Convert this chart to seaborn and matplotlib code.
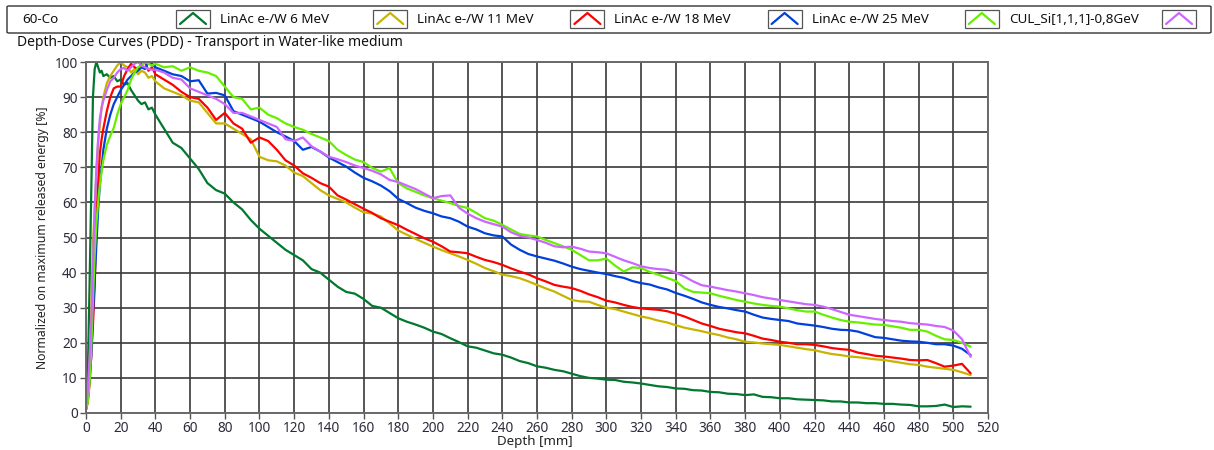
import numpy as np
import pandas as pd
import seaborn as sns
import matplotlib
matplotlib.use("Agg")
import matplotlib.pyplot as plt
from matplotlib.patches import Rectangle, FancyBboxPatch
from matplotlib.lines import Line2D

# ---------------- data ----------------
depth_mm = [0, 1, 2, 3, 4, 5, 6, 7, 8, 9, 10, 12, 14, 16, 18, 20, 22, 24, 26, 28,
            30, 32, 34, 36, 38, 40] + list(range(45, 515, 5))

linac_6 = [1, 10, 35, 62, 90, 98, 100, 98.5, 97, 97.5, 96,
           96.5, 95.5, 96, 94.5, 95, 93.5, 94, 92, 90.5, 89, 88, 88.5, 86.5, 87, 85,
           81, 77, 75.5, 72.5, 69.5, 65.5, 63.5, 62.5, 60, 58, 55,
           52.5, 50.5, 48.5, 46.5, 45, 43.5, 41, 40, 38, 36,
           34.5, 34, 32.5, 30.5, 30, 28.5, 27, 26, 25.2, 24.3,
           23.2, 22.5, 21.3, 20.2, 19, 18.6, 17.8, 17, 16.6, 15.8,
           14.8, 14.2, 13.3, 12.9, 12.3, 11.9, 11.2, 10.5, 10, 9.8,
           9.5, 9.4, 8.9, 8.7, 8.4, 8.0, 7.6, 7.4, 7.0, 6.9,
           6.5, 6.4, 6.0, 5.9, 5.5, 5.4, 5.1, 5.3, 4.6, 4.5,
           4.2, 4.2, 3.9, 3.8, 3.7, 3.6, 3.3, 3.3, 3.0, 3.0,
           2.8, 2.8, 2.6, 2.6, 2.4, 2.3, 1.9, 1.9, 2.0, 2.4,
           1.7, 1.9, 1.8]

linac_11 = [2, 5, 12, 28, 48, 58, 68, 77, 82, 87, 90,
            94, 96, 97.5, 99, 100, 99, 98.5, 97, 98, 96.5, 97.5, 97, 95.5, 96, 94.5,
            92.5, 91.5, 90.5, 89, 88.5, 85.5, 82.5, 82.5, 81, 79.5, 78,
            73, 72, 71.7, 70.5, 68.5, 67.5, 65.5, 63.5, 62, 61,
            60, 58.5, 57.2, 56.8, 56, 54, 52, 50.8, 49.6, 48.5,
            47.4, 46.4, 45.5, 44.6, 43.6, 42.5, 41.3, 40.4, 39.4, 39,
            38.4, 37.5, 36.5, 35.5, 34.6, 33.4, 32.2, 31.8, 31.7, 30.8,
            30, 29.6, 28.9, 28.2, 27.5, 27, 26.3, 25.8, 25, 24.3,
            23.8, 23.3, 22.7, 22.2, 21.5, 21, 20.3, 20.1, 19.8, 19.6,
            19.4, 19, 18.6, 18.2, 17.9, 17.3, 16.8, 16.5, 16.1, 15.9,
            15.6, 15.3, 15.1, 14.7, 14.3, 13.9, 13.7, 13.2, 12.9, 12.6,
            12.3, 11.6, 10.8]

linac_18 = [1, 3, 8, 16, 25, 36, 55, 65, 74, 78, 81,
            86, 90, 92.5, 93, 93, 96, 98, 99.5, 98.5, 98, 99.5, 100, 97.5, 98.5, 96.5,
            95, 93.5, 91.5, 90, 89.5, 87, 83.5, 85.5, 82.5, 81, 77,
            78.5, 77.5, 75, 72, 70.5, 68.3, 67, 65.5, 64.5, 62,
            60.8, 59.5, 58.2, 57, 55.5, 54.5, 53.5, 52.2, 51, 49.8,
            48.8, 47.5, 46, 45.8, 45.5, 44.5, 43.6, 43, 42.2, 41.2,
            40.3, 39.5, 38.4, 37.5, 36.5, 36, 35.6, 34.8, 33.8, 33,
            32, 31.5, 30.8, 30.2, 29.8, 29.6, 29.4, 29, 28.3, 27.5,
            26.5, 25.5, 24.8, 24, 23.5, 23, 22.7, 22, 21.2, 20.8,
            20.3, 20, 19.6, 19.6, 19.4, 19, 18.5, 18.2, 18, 17.2,
            16.8, 16.3, 16.1, 15.8, 15.5, 15.1, 15.0, 15.1, 14.2, 13.2,
            13.5, 14.0, 11.3]

linac_25 = [1, 4, 9, 16, 28, 38, 48, 58, 65, 70, 75,
            81, 85, 88, 90, 92, 93.5, 95, 96, 97, 97.5, 98.5, 98, 100, 99.5, 98.5,
            97.5, 96.5, 96, 94.5, 94.8, 91, 91.2, 90.5, 86, 85, 84,
            83, 81.5, 80, 78.8, 77.5, 75, 75.8, 74.5, 72.8, 71.5,
            70.2, 68.5, 67, 66, 64.8, 63.2, 61, 59.8, 58.5, 57.6,
            56.9, 56, 55.5, 54.5, 53.1, 52.3, 51.2, 50.6, 50.3, 48,
            46.5, 45.3, 44.6, 44, 43.4, 42.6, 41.7, 41, 40.5, 40,
            39.6, 39, 38.5, 37.6, 37, 36.6, 35.8, 35.2, 34.2, 33.4,
            32.5, 31.5, 30.8, 30.2, 29.8, 29.3, 28.9, 28, 27.2, 26.8,
            26.5, 26.2, 25.5, 25.2, 24.9, 24.5, 24, 23.7, 23.6, 23.2,
            22.4, 21.6, 21.4, 21, 20.6, 20.4, 20.3, 20, 19.6, 19.6,
            19.2, 18.3, 16.5]

cul_si = [1, 3, 8, 18, 32, 45, 54, 60, 65, 68.8, 72,
          76.4, 79, 81.2, 85, 88, 90, 92, 95, 97, 98.5, 99, 100, 99.5, 99, 99.5,
          98.5, 98.8, 97.5, 98.5, 97.5, 97, 96, 93, 90, 89.5, 86.5,
          87, 85, 84, 82.5, 81.5, 80.7, 79.5, 78.5, 77.5, 75,
          73.5, 72.2, 71.5, 69.8, 68.8, 69.8, 65.5, 64, 63, 62,
          61.2, 60.5, 59.8, 59, 58.4, 57, 55.5, 54.8, 53.6, 52.3,
          51, 50.6, 50.3, 49.3, 48.4, 47.5, 46.5, 45, 43.5, 43.5,
          44, 42, 40.3, 41.5, 41.3, 40.2, 39.4, 38.5, 37.6, 35.5,
          34.5, 34.3, 34.1, 33.4, 32.8, 32.2, 31.7, 31.2, 30.8, 30.5,
          30.3, 29.8, 29.3, 28.9, 28.9, 28, 27.2, 26.5, 26, 25.8,
          25.5, 25.2, 25.1, 24.7, 24.3, 23.7, 23.7, 23.2, 22, 21,
          20.8, 20, 18.9]

violet = [2, 6, 15, 25, 42, 58, 70, 78, 84, 87, 89,
          92, 94.5, 95.5, 97, 98, 98.3, 97.5, 98.5, 99.5, 100, 99, 98.5, 98, 97.8, 97.8,
          97, 95.5, 95, 92.5, 91.5, 90.5, 89.5, 88, 85.5, 85.5, 84.5,
          83.5, 82.5, 81.5, 78, 77.5, 78.5, 76, 74.5, 73, 72.3,
          71.5, 70.5, 69.8, 69, 68, 66.4, 65.8, 64.8, 63.8, 62.5,
          61.2, 61.8, 62, 58.5, 56.8, 55.5, 54.5, 53.8, 53.1, 51.5,
          50.5, 50, 49.3, 48.5, 47.5, 47.2, 47.4, 46.8, 46, 45.8,
          45.5, 44.5, 43.5, 42.7, 41.8, 41.3, 41, 40.8, 40, 38.9,
          37.5, 36.4, 36, 35.5, 35, 34.6, 34.1, 33.6, 33, 32.6,
          32.2, 31.8, 31.4, 31, 30.8, 30.3, 29.6, 28.8, 28, 27.6,
          27.2, 26.8, 26.5, 26.2, 26, 25.6, 25.4, 25.2, 24.8, 24.5,
          23.5, 21, 16]

series_names = ["LinAc e-/W 6 MeV", "LinAc e-/W 11 MeV", "LinAc e-/W 18 MeV",
                "LinAc e-/W 25 MeV", "CUL_Si[1,1,1]-0,8GeV", ""]
series_values = [linac_6, linac_11, linac_18, linac_25, cul_si, violet]
series_colors = ["#00782D", "#C8B400", "#FF0000", "#0040DD", "#66F000", "#CC66FF"]

x_ticks = list(range(0, 540, 20))
y_ticks = list(range(0, 110, 10))

# ---------------- build long-form table ----------------
frames = []
for i, (name, vals) in enumerate(zip(series_names, series_values)):
    assert len(vals) == len(depth_mm), (name, len(vals))
    frames.append(pd.DataFrame({"Depth": depth_mm, "Value": vals, "key": f"s{i}"}))
df = pd.concat(frames, ignore_index=True)
palette = {f"s{i}": c for i, c in enumerate(series_colors)}

# ---------------- figure ----------------
sns.set_theme(style="white")
plt.rcParams["font.family"] = ["Noto Sans", "DejaVu Sans"]

W, H = 1214, 450
fig = plt.figure(figsize=(W / 100, H / 100), dpi=100)
ax = fig.add_axes([86 / W, 1 - 413 / H, (988 - 86) / W, (413 - 62) / H])

sns.lineplot(data=df, x="Depth", y="Value", hue="key", palette=palette,
             estimator=None, sort=False, legend=False, linewidth=1.6, ax=ax)

ax.set_xlim(0, 520)
ax.set_ylim(0, 100)
ax.set_xticks(x_ticks)
ax.set_yticks(y_ticks)
ax.grid(True, color="#3a3a3a", linewidth=1.2)
ax.set_axisbelow(True)
for s in ax.spines.values():
    s.set_color("#6a6a6a")
    s.set_linewidth(1.4)
ax.tick_params(axis="both", which="both", direction="out", length=4, width=1,
               color="#555555", labelsize=9.8, labelcolor="#2b2b3b", pad=2,
               bottom=True, left=True)
ax.set_xlabel("Depth [mm]", fontsize=9.6, color="#222222", labelpad=0, va="center")
ax.xaxis.set_label_coords((535 - 86) / (988 - 86), -28.5 / 351)
ax.set_ylabel("Normalized on maximum released energy [%]", fontsize=8.8,
              color="#222222", labelpad=4)


def px(x, y):
    return x / W, 1 - y / H

# legend frame
x0, y0 = px(7, 33)
fig.patches.append(FancyBboxPatch((x0, y0), (1211 - 7) / W, (33 - 6) / H,
                                  boxstyle="round,pad=0,rounding_size=0.002",
                                  transform=fig.transFigure, fill=False,
                                  edgecolor="#333333", linewidth=1.0))
fig.text(*px(22, 19.5), "60-Co", fontsize=9.7, va="center", ha="left", color="#111111")

for i, (name, col) in enumerate(zip(series_names, series_colors)):
    sx = 176 + i * 197.2
    rx, ry = px(sx, 28)
    fig.patches.append(Rectangle((rx, ry), 34 / W, 18 / H, transform=fig.transFigure,
                                 fill=False, edgecolor="#555555", linewidth=0.9))
    lx = [px(sx + 4, 24)[0], px(sx + 17, 13)[0], px(sx + 30, 24)[0]]
    ly = [px(sx + 4, 24)[1], px(sx + 17, 13)[1], px(sx + 30, 24)[1]]
    fig.lines.append(Line2D(lx, ly, transform=fig.transFigure, color=col, linewidth=1.6))
    if name:
        fig.text(*px(sx + 44, 19.5), name, fontsize=9.7, va="center", ha="left",
                 color="#111111")

fig.text(*px(17, 42), "Depth-Dose Curves (PDD) - Transport in Water-like medium",
         fontsize=10, va="center", ha="left", color="#111111")

fig.savefig("out.png", dpi=100)
